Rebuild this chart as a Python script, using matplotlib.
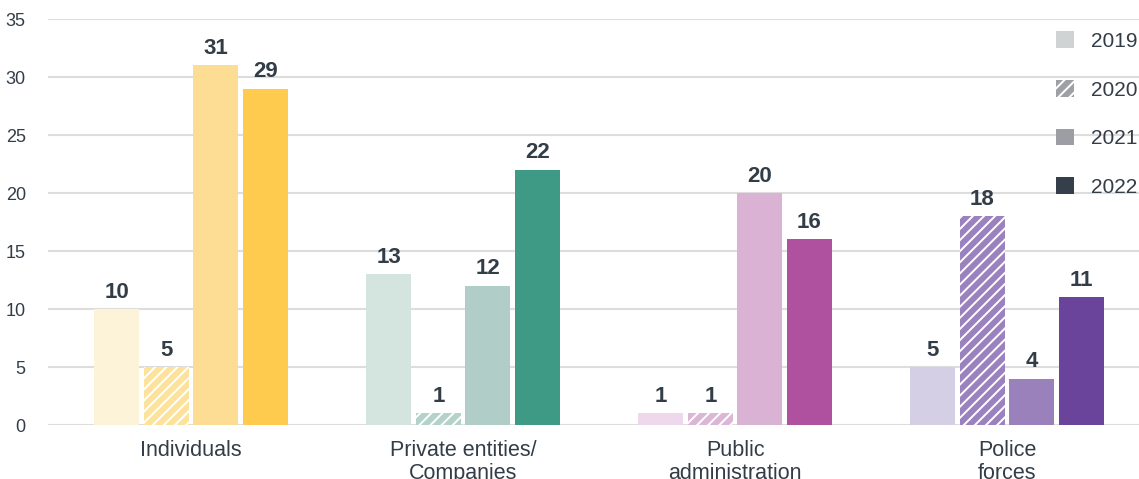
import matplotlib.pyplot as plt
import numpy as np
from matplotlib.patches import Patch

plt.rcParams["font.family"] = ["Liberation Sans", "DejaVu Sans"]
plt.rcParams["hatch.linewidth"] = 1.4

categories = ["Individuals", "Private entities/\nCompanies",
              "Public\nadministration", "Police\nforces"]
years = ["2019", "2020", "2021", "2022"]
values_2019 = [10, 13, 1, 5]
values_2020 = [5, 1, 1, 18]
values_2021 = [31, 12, 20, 4]
values_2022 = [29, 22, 16, 11]

# one colour per (category, year)
colors = [
    ["#fdf3d8", "#fde29c", "#fddd93", "#fecb4e"],
    ["#d4e4df", "#b3d2c9", "#b1cdc7", "#3e9985"],
    ["#eed8eb", "#dcb6d6", "#d9b2d4", "#af519f"],
    ["#d5cfe6", "#9b82be", "#9a81bb", "#69449a"],
]
legend_colors = ["#d0d3d4", "#9ea0a5", "#9d9ea3", "#343f4b"]
TEXT = "#333d47"

series = [values_2019, values_2020, values_2021, values_2022]

fig = plt.figure(figsize=(11.39, 4.79), dpi=100)
ax = fig.add_axes([48 / 1139, 54 / 479, 1 - 48 / 1139, (425 - 19) / 479])

x = np.arange(len(categories))
step = 0.182
width = 0.165
for j, vals in enumerate(series):
    off = (j - 1.5) * step
    for i, v in enumerate(vals):
        hatched = years[j] == "2020"
        ax.bar(x[i] + off, v, width=width, color=colors[i][j],
               edgecolor="white" if hatched else "none",
               hatch="///" if hatched else None, linewidth=0, zorder=3)
        ax.text(x[i] + off, v + 0.55, str(v), ha="center", va="bottom",
                fontsize=16, fontweight="bold", color=TEXT)

ax.set_xlim(-0.526, 3.485)
ax.set_ylim(0, 35)
ax.set_yticks(range(0, 36, 5))
ax.yaxis.grid(True, color="#dddddd", linewidth=1.5, zorder=0)
ax.set_axisbelow(True)
for s in ax.spines.values():
    s.set_visible(False)
ax.tick_params(axis="y", length=0, pad=16, labelsize=13, labelcolor=TEXT)
ax.tick_params(axis="x", length=0, pad=11, labelsize=15.5, labelcolor=TEXT)
ax.set_xticks(x)
# second line is cut by the bottom edge, as in the original
ax.set_xticklabels(categories, linespacing=1.1, va="top")

handles = []
for j, y in enumerate(years):
    hatched = y == "2020"
    handles.append(Patch(facecolor=legend_colors[j],
                         edgecolor="white" if hatched else "none",
                         hatch="///" if hatched else None, linewidth=0,
                         label=y))
leg = ax.legend(handles=handles, loc="upper right", bbox_to_anchor=(1.006, 0.99),
                frameon=False, fontsize=15, labelspacing=1.4,
                handlelength=0.85, handleheight=0.85, handletextpad=0.8,
                borderaxespad=0)
for t in leg.get_texts():
    t.set_color(TEXT)

fig.savefig("out.png", dpi=100)
